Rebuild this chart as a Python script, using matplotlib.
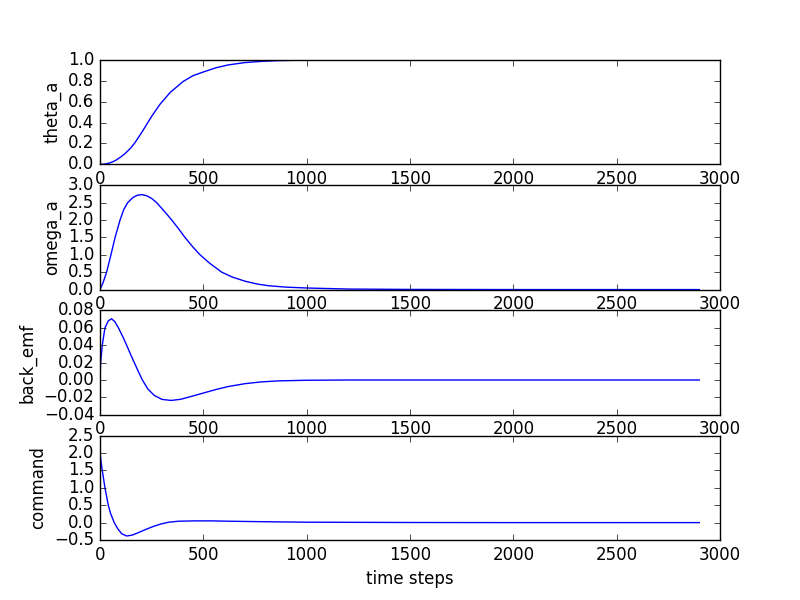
import matplotlib
matplotlib.use('Agg')
import matplotlib.pyplot as plt

plt.style.use('classic')

# values, by time step
t_theta = [0, 25, 50, 75, 100, 125, 150, 170, 200, 225, 250, 290, 340, 403, 450, 500,
           560, 621, 700, 782, 860, 944, 1000, 1200, 1500, 2000, 2500, 2900]
theta_a = [0.0, 0.003, 0.015, 0.037, 0.07, 0.11, 0.16, 0.21, 0.30, 0.38, 0.46, 0.575, 0.69, 0.795, 0.85, 0.885,
           0.925, 0.953, 0.975, 0.987, 0.994, 0.997, 0.999, 1.0, 1.0, 1.0, 1.0, 1.0]

t_omega = [0, 15, 32, 53, 73, 97, 115, 134, 160, 180, 202, 225, 250, 274, 310, 347, 380, 411,
           450, 484, 530, 589, 640, 702, 760, 815, 900, 1000, 1200, 1500, 2000, 2500, 2900]
omega_a = [0.0, 0.2, 0.5, 1.0, 1.5, 2.0, 2.3, 2.5, 2.65, 2.71, 2.73, 2.70, 2.62, 2.5, 2.26, 2.0, 1.75, 1.5,
           1.22, 1.0, 0.76, 0.5, 0.36, 0.24, 0.16, 0.11, 0.07, 0.045, 0.015, 0.004, 0.0, 0.0, 0.0]

t_emf = [0, 3, 11, 24, 40, 56, 72, 89, 110, 129, 147, 166, 185, 205, 232, 263, 300, 344, 390,
         440, 500, 560, 621, 702, 780, 863, 1000, 1200, 1500, 2000, 2500, 2900]
back_emf = [0.0, 0.02, 0.04, 0.06, 0.068, 0.0704, 0.067, 0.06, 0.05, 0.04, 0.03, 0.02, 0.01, 0.0, -0.0105,
            -0.0178, -0.0223, -0.0235, -0.0222, -0.019, -0.015, -0.011, -0.0075, -0.0042, -0.0022, -0.001,
            -0.0003, 0.0, 0.0, 0.0, 0.0, 0.0]

t_cmd = [0, 5, 11, 24, 40, 52, 69, 85, 105, 129, 155, 185, 220, 258, 295, 331, 380, 460, 540,
         621, 800, 1000, 1500, 2000, 2500, 2900]
command = [2.0, 1.75, 1.5, 1.0, 0.5, 0.25, 0.0, -0.17, -0.32, -0.385, -0.36, -0.29, -0.2, -0.11, -0.04,
           0.01, 0.04, 0.05, 0.05, 0.04, 0.025, 0.012, 0.003, 0.0, 0.0, 0.0]

fig, axes = plt.subplots(4, 1, figsize=(8, 6))

series = [(t_theta, theta_a, 'theta_a'),
          (t_omega, omega_a, 'omega_a'),
          (t_emf, back_emf, 'back_emf'),
          (t_cmd, command, 'command')]

for ax, (t, y, name) in zip(axes, series):
    ax.plot(t, y, color='b')
    ax.set_ylabel(name)
    ax.set_xlim(0, 3000)

axes[0].set_ylim(0, 1.0)
axes[1].set_ylim(0, 3.0)
axes[2].set_ylim(-0.04, 0.08)
axes[3].set_ylim(-0.5, 2.5)
axes[3].set_xlabel('time steps')

fig.savefig('out.png', dpi=100)
